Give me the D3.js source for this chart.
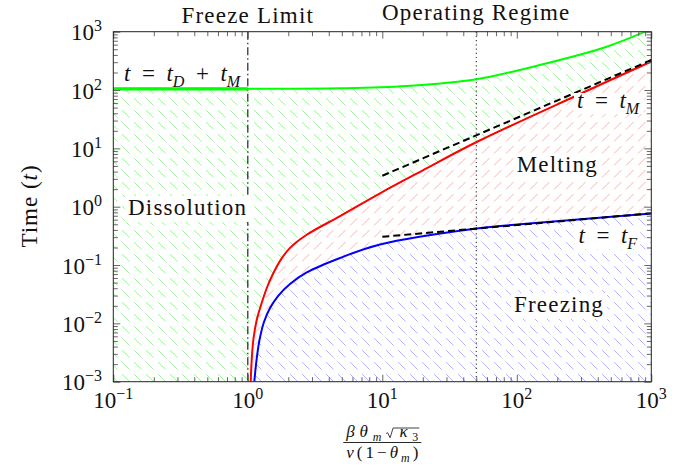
<!DOCTYPE html>
<html>
<head>
<meta charset="utf-8">
<script src="https://cdn.jsdelivr.net/npm/d3@7"></script>
<style>
body { margin: 0; background: #fff; }
svg text { font-family: "Liberation Serif", "Times New Roman", serif; fill: #111; white-space: pre; }
</style>
</head>
<body>
<svg id="chart" width="691" height="467"></svg>
<script>
// ---- data ----
const xTickExps = [-1, 0, 1, 2, 3];
const yTickExps = [-3, -2, -1, 0, 1, 2, 3];

// t = t_D + t_M (green)
const greenX = [0.1, 1, 4.85, 15.2, 50, 148, 466, 898];
const greenY = [105, 105, 107, 117, 153, 268, 553, 1000];

// t = t_M (red)
const redX = [1.051, 1.069, 1.099, 1.165, 1.268, 1.389, 1.547, 1.766, 2.06, 2.742, 4.85, 9.62, 20, 50.3, 295, 1000];
const redY = [0.001, 0.00235, 0.00518, 0.0114, 0.0223, 0.0412, 0.0721, 0.125, 0.197, 0.33, 0.69, 1.70, 4.20, 12.85, 85.5, 308];

// t = t_F (blue)
const blueX = [1.118, 1.161, 1.222, 1.319, 1.463, 1.677, 2.06, 2.742, 4.85, 9.62, 50.3, 106, 1000];
const blueY = [0.001, 0.00235, 0.00518, 0.01054, 0.0183, 0.0294, 0.0473, 0.0745, 0.132, 0.225, 0.423, 0.499, 0.764];

// dashed asymptotes
const asymMX = [10, 1000], asymMY = [3.39, 327];
const asymFX = [10, 1000], asymFY = [0.305, 0.77];

const freezeLimit = 1;
const operatingLine = 50;

// ---- layout ----
const xL = 113.3, xR = 651.3, yT = 31.7, yB = 381.7;

const svg = d3.select("#chart");
const defs = svg.append("defs");

const x = d3.scaleLog().domain([0.1, 1000]).range([xL, xR]);
const y = d3.scaleLog().domain([1e-3, 1e3]).range([yB, yT]);

const zip = (xs, ys) => xs.map((v, i) => [v, ys[i]]);
const curve = d3.line().x(d => x(d[0])).y(d => y(d[1])).curve(d3.curveCatmullRom.alpha(0.5));
const straight = d3.line().x(d => x(d[0])).y(d => y(d[1]));

const gPts = zip(greenX, greenY), rPts = zip(redX, redY), bPts = zip(blueX, blueY);
const gPath = curve(gPts), rPath = curve(rPts), bPath = curve(bPts);
const cont = p => "L" + p.slice(1);

// hatch patterns (dashed diagonal lines)
function hatch(id, color, dir) {
    const p = defs.append("pattern").attr("id", id)
        .attr("patternUnits", "userSpaceOnUse")
        .attr("width", 12).attr("height", 12);
    const l = p.append("line").attr("stroke", color).attr("stroke-width", 1);
    if (dir === "nw") l.attr("x1", 2).attr("y1", 2).attr("x2", 9.5).attr("y2", 9.5);
    else l.attr("x1", 2).attr("y1", 9.5).attr("x2", 9.5).attr("y2", 2);
}
hatch("hG", "#a4efa4", "nw");
hatch("hR", "#ffb0b0", "ne");
hatch("hB", "#b4b4ff", "nw");

function clip(id, d) { defs.append("clipPath").attr("id", id).append("path").attr("d", d); }
clip("plotClip", `M${xL},${yT}H${xR}V${yB}H${xL}Z`);
clip("underGreen", gPath + `L${xR},${yT}L${xR},${yB}L${xL},${yB}Z`);
clip("aboveRed", `M${xL},${yB}` + cont(rPath) + `L${xR},${yT}L${xL},${yT}Z`);
clip("belowRed", rPath + `L${xR},${yB}Z`);
clip("aboveBlue", `M${xL},${yB}` + cont(bPath) + `L${xR},${yT}L${xL},${yT}Z`);
clip("belowBlue", bPath + `L${xR},${yB}Z`);

function hatchRegion(c1, c2, pat) {
    let g = svg.append("g").attr("clip-path", `url(#${c1})`);
    if (c2) g = g.append("g").attr("clip-path", `url(#${c2})`);
    g.append("rect").attr("x", xL).attr("y", yT)
        .attr("width", xR - xL).attr("height", yB - yT)
        .attr("fill", `url(#${pat})`);
}
hatchRegion("underGreen", "aboveRed", "hG");
hatchRegion("belowRed", "aboveBlue", "hR");
hatchRegion("belowBlue", null, "hB");

const plot = svg.append("g").attr("clip-path", "url(#plotClip)");

// reference verticals
plot.append("line").attr("x1", x(freezeLimit)).attr("x2", x(freezeLimit))
    .attr("y1", yT).attr("y2", yB)
    .attr("stroke", "#222").attr("stroke-width", 1.2).attr("stroke-dasharray", "8 3 1.5 3");
plot.append("line").attr("x1", x(operatingLine)).attr("x2", x(operatingLine))
    .attr("y1", yT).attr("y2", yB)
    .attr("stroke", "#333").attr("stroke-width", 1.1).attr("stroke-dasharray", "1.2 3");

// curves
plot.append("path").attr("d", gPath).attr("fill", "none").attr("stroke", "#00ff00").attr("stroke-width", 2);
plot.append("path").attr("d", curve(gPts.filter(d => d[0] <= freezeLimit)))
    .attr("fill", "none").attr("stroke", "#00ff00").attr("stroke-width", 3.2);
plot.append("path").attr("d", rPath).attr("fill", "none").attr("stroke", "#ff0000").attr("stroke-width", 2);
plot.append("path").attr("d", bPath).attr("fill", "none").attr("stroke", "#0000ff").attr("stroke-width", 2);

[zip(asymMX, asymMY), zip(asymFX, asymFY)].forEach(pts => {
    plot.append("path").attr("d", straight(pts)).attr("fill", "none")
        .attr("stroke", "#000").attr("stroke-width", 2).attr("stroke-dasharray", "7 4");
});

// ticks (inward, all four sides)
const majorX = xTickExps.map(e => 10 ** e);
const majorY = yTickExps.map(e => 10 ** e);
const minorX = [], minorY = [];
xTickExps.slice(0, -1).forEach(e => d3.range(2, 10).forEach(m => minorX.push(m * 10 ** e)));
yTickExps.slice(0, -1).forEach(e => d3.range(2, 10).forEach(m => minorY.push(m * 10 ** e)));

function ticks(gen, vals, size, tr) {
    svg.append("g").attr("transform", tr)
        .call(gen.tickValues(vals).tickSize(size).tickFormat(""))
        .call(g => g.select(".domain").remove())
        .selectAll("line").attr("stroke", "#666").attr("stroke-width", 1);
}
[[minorX, -4.5], [majorX, -7]].forEach(([v, s]) => {
    ticks(d3.axisBottom(x), v, s, `translate(0,${yB})`);
    ticks(d3.axisTop(x), v, s, `translate(0,${yT})`);
});
[[minorY, -4.5], [majorY, -7]].forEach(([v, s]) => {
    ticks(d3.axisLeft(y), v, s, `translate(${xL},0)`);
    ticks(d3.axisRight(y), v, s, `translate(${xR},0)`);
});

svg.append("rect").attr("x", xL).attr("y", yT).attr("width", xR - xL).attr("height", yB - yT)
    .attr("fill", "none").attr("stroke", "#222").attr("stroke-width", 1);

// tick labels
function powLabel(sel, e) {
    sel.append("tspan").text("10");
    sel.append("tspan").attr("dy", -9).attr("font-size", 16).text(e < 0 ? "\u2212" + (-e) : String(e));
}
svg.append("g").selectAll("text").data(xTickExps).join("text")
    .attr("x", d => x(10 ** d)).attr("y", 408).attr("text-anchor", "middle").attr("font-size", 23)
    .each(function (d) { powLabel(d3.select(this), d); });
svg.append("g").selectAll("text").data(yTickExps).join("text")
    .attr("x", 102).attr("y", d => y(10 ** d) + 8.5).attr("text-anchor", "end").attr("font-size", 23)
    .each(function (d) { powLabel(d3.select(this), d); });

// labels
const labels = svg.append("g");

function mathText(g, parts, px, py, size, opts) {
    const t = g.append("text").attr("x", px).attr("y", py).attr("font-size", size);
    let shift = 0;
    parts.forEach(p => {
        const s = t.append("tspan").text(p[0]);
        const f = p[1] || "";
        if (f.includes("i")) s.attr("font-style", "italic");
        const target = f.includes("s") ? size * 0.25 : 0;
        if (target !== shift) { s.attr("dy", target - shift); shift = target; }
        if (f.includes("s")) s.attr("font-size", size * 0.7);
    });
    if (opts && opts.anchor) t.attr("text-anchor", opts.anchor);
    if (opts && opts.width) t.attr("textLength", opts.width).attr("lengthAdjust", "spacing");
    if (opts && opts.spacing) t.attr("letter-spacing", opts.spacing);
    return t;
}

function withBg(t, baseline, top, bottom) {
    const bb = t.node().getBBox();
    labels.insert("rect", () => t.node())
        .attr("x", bb.x - 3).attr("y", baseline - top)
        .attr("width", bb.width + 6).attr("height", top + bottom).attr("fill", "#fff");
}

const word = (txt, px, py, anchor) =>
    mathText(labels, [[txt, ""]], px, py, 23, { anchor: anchor, spacing: 1.2 });

word("Freeze Limit", x(freezeLimit), 22.7, "middle");
word("Operating Regime", x(operatingLine), 20, "middle");
withBg(word("Dissolution", 128, 215), 215, 19, 7);
withBg(word("Melting", 516.7, 171.7), 171.7, 19, 7);
withBg(word("Freezing", 514, 312), 312, 19, 7);

const eq = "\u2002=\u2002", plus = "\u2002+\u2002";
mathText(labels, [["t", "i"], [eq], ["t", "i"], ["D", "is"], [plus], ["t", "i"], ["M", "is"]], 124, 81, 23);
withBg(mathText(labels, [["t", "i"], [eq], ["t", "i"], ["M", "is"]], 577, 108, 23), 108, 15, 6);
withBg(mathText(labels, [["t", "i"], [eq], ["t", "i"], ["F", "is"]], 578.5, 243, 23), 243, 15, 6);

// y title
const yt = labels.append("text").attr("transform", "translate(37,206) rotate(-90)")
    .attr("text-anchor", "middle").attr("font-size", 23).attr("letter-spacing", 1);
yt.append("tspan").text("Time (");
yt.append("tspan").attr("font-style", "italic").text("t");
yt.append("tspan").text(")");

// x title: fraction
const cx = (xL + xR) / 2;
const num = mathText(labels, [["\u03b2", "i"], ["\u03b8", "i"], ["m", "is"], ["\u2002", ""], ["\u03ba", "i"], ["3", "s"]],
    cx, 437, 17, { anchor: "middle", width: 72 });
const den = mathText(labels, [["\u03bd", "i"], ["(1\u2212", ""], ["\u03b8", "i"], ["m", "is"], [")", ""]],
    cx, 458, 17, { anchor: "middle", width: 72 });
labels.append("line").attr("x1", cx - 39).attr("x2", cx + 39).attr("y1", 442.5).attr("y2", 442.5)
    .attr("stroke", "#111").attr("stroke-width", 0.9);
{
    const n = num.node();
    const r0 = n.getStartPositionOfChar(3).x;
    const kEnd = n.getEndPositionOfChar(5).x;
    const b = 437;
    labels.append("path")
        .attr("d", `M${r0},${b - 3.5}l1.5,-0.8l2.5,5l3,-9.7H${kEnd + 1}`)
        .attr("fill", "none").attr("stroke", "#111").attr("stroke-width", 0.8);
}
</script>
</body>
</html>
